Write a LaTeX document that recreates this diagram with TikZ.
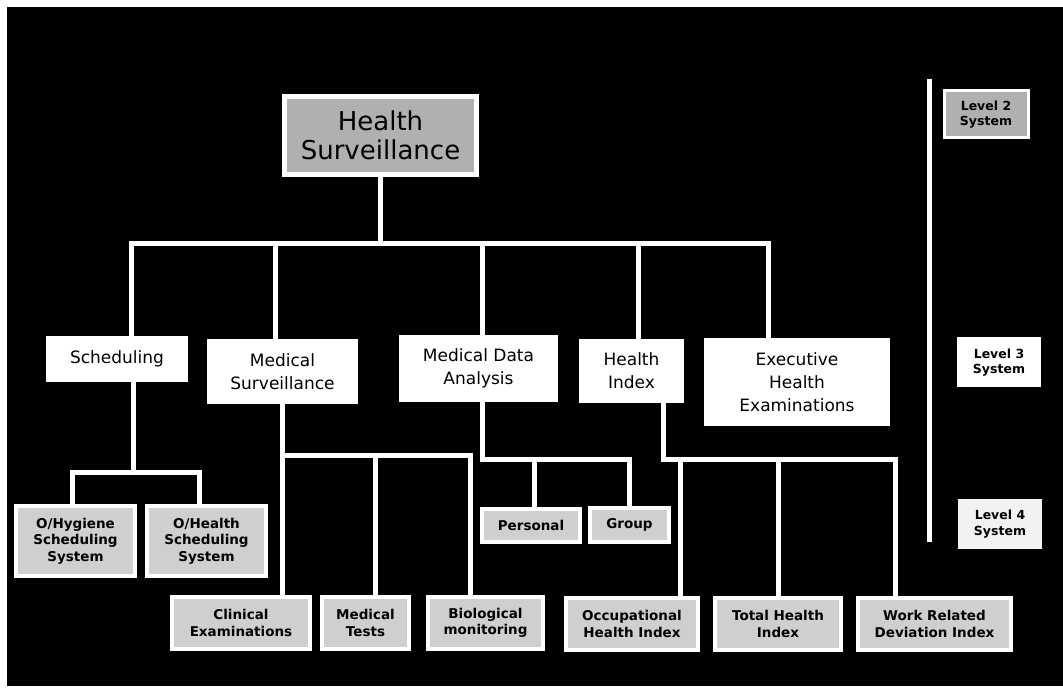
\documentclass[tikz,border=0pt]{standalone}
\usepackage{fontspec}
\setmainfont{DejaVu Sans}
\tikzset{
    link/.style={draw=white, line width=5pt},
    topbox/.style={fill=gray!62, draw=white, line width=5pt, inner sep=0pt, align=center, font=\fontsize{26}{29}\selectfont},
    midbox/.style={fill=white, inner sep=0pt, align=center, font=\fontsize{17}{23}\selectfont},
    lowbox/.style={fill=gray!38, draw=white, line width=4pt, inner sep=0pt, align=center, font=\bfseries\fontsize{13.5}{16.5}\selectfont},
    keybox/.style={inner sep=0pt, align=center, minimum width=84pt, minimum height=50pt, font=\bfseries\fontsize{12.5}{15.5}\selectfont}
}
\begin{document}
\begin{tikzpicture}[x=1pt, y=-1pt]
    \useasboundingbox (0,0) rectangle (1063,692);
    \fill[white] (0,0) rectangle (1063,692);
    \fill[black] (7,7) rectangle (1063,686);

    \node[topbox, minimum width=192pt, minimum height=78pt] (hs) at (380.5,135.5) {Health\\Surveillance};

    \node[midbox, minimum width=142pt, minimum height=46pt] (sched) at (117,359) {Scheduling};
    \node[midbox, minimum width=151pt, minimum height=65pt] (medsurv) at (282.5,371.5) {Medical\\Surveillance};
    \node[midbox, minimum width=159pt, minimum height=67pt] (mda) at (478.5,368.5) {Medical Data\\Analysis};
    \node[midbox, minimum width=105pt, minimum height=64pt] (hindex) at (631.5,371) {Health\\Index};
    \node[midbox, minimum width=186pt, minimum height=88pt] (exec) at (797,382) {Executive\\Health\\Examinations};

    \node[lowbox, minimum width=119pt, minimum height=70pt] (ohyg) at (75.5,541) {O/Hygiene\\Scheduling\\System};
    \node[lowbox, minimum width=119pt, minimum height=70pt] (ohealth) at (206.5,541) {O/Health\\Scheduling\\System};
    \node[lowbox, minimum width=98pt, minimum height=33pt] (personal) at (531,525.5) {Personal};
    \node[lowbox, minimum width=79pt, minimum height=34pt] (group) at (629.5,525) {Group};

    \node[lowbox, minimum width=138pt, minimum height=52pt] (clinical) at (241,623) {Clinical\\Examinations};
    \node[lowbox, minimum width=87pt, minimum height=52pt] (medtests) at (365.5,623) {Medical\\Tests};
    \node[lowbox, minimum width=115pt, minimum height=52pt] (bio) at (485.5,623) {Biological\\monitoring};
    \node[lowbox, minimum width=132pt, minimum height=52pt] (occ) at (632,624) {Occupational\\Health Index};
    \node[lowbox, minimum width=126pt, minimum height=52pt] (total) at (778,624) {Total Health\\Index};
    \node[lowbox, minimum width=153pt, minimum height=52pt] (work) at (934.5,624) {Work Related\\Deviation Index};

    \node[keybox, fill=gray!62, draw=white, line width=3pt, minimum width=84pt, minimum height=47pt] (lvltwo) at (986,114.5) {Level 2\\System};
    \node[keybox, fill=white] (lvlthree) at (999,362.5) {Level 3\\System};
    \node[keybox, fill=gray!10] (lvlfour) at (1000,524) {Level 4\\System};

    \coordinate (keytop) at (929,79);
    \coordinate (keybot) at (929,542);
    \draw[link] (keytop) -- (keybot);

    \coordinate (bus) at (376,244);
    \draw[link] (hs.south) -- (hs.south |- bus);
    \draw[link] ([xshift=14pt]sched.north) |- (bus) -| ([xshift=-29pt]exec.north);
    \foreach \n/\d in {medsurv/-7, mda/4, hindex/7}
        \draw[link] ([xshift=\d pt]\n.north) -- ([xshift=\d pt]\n.north |- bus);

    \coordinate (schedbus) at (133,472);
    \draw[link] ([xshift=16pt]sched.south) -- (schedbus);
    \draw[link] ([xshift=-3pt]ohyg.north) |- (schedbus) -| ([xshift=-7pt]ohealth.north);

    \coordinate (msbus) at (281,455);
    \draw[link] (medsurv.south) -- (medsurv.south |- clinical.north);
    \draw[link] (medsurv.south |- msbus) -| ([xshift=-15pt]bio.north);
    \draw[link] ([xshift=10pt]medtests.north) -- ([xshift=10pt]medtests.north |- msbus);

    \coordinate (mdabus) at (482,459);
    \draw[link] ([xshift=4pt]mda.south) -- ([xshift=4pt]mda.south |- mdabus) -| (group.north);
    \draw[link] ([xshift=3pt]personal.north) -- ([xshift=3pt]personal.north |- mdabus);

    \coordinate (hibus) at (664,459);
    \draw[link] ([xshift=32pt]hindex.south) -- ([xshift=32pt]hindex.south |- hibus) -| ([xshift=-39pt]work.north);
    \draw[link] ([xshift=48pt]occ.north) -- ([xshift=48pt]occ.north |- hibus);
    \draw[link] (total.north) -- (total.north |- hibus);
\end{tikzpicture}
\end{document}
